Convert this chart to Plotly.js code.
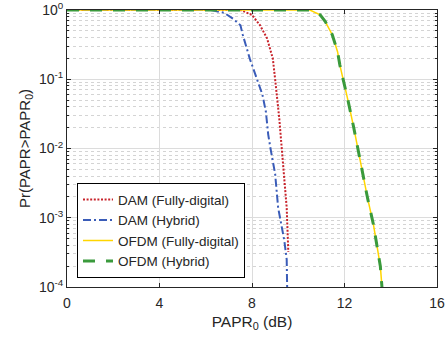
<!DOCTYPE html>
<html>
<head>
<meta charset="utf-8">
<script src="https://cdn.plot.ly/plotly-3.0.1.min.js"></script>
<style>html,body{margin:0;padding:0;background:#fff;}#chart{width:447px;height:341px;}</style>
</head>
<body>
<div id="chart"></div>
<script>
// Series names
const seriesNames = ["DAM (Fully-digital)", "DAM (Hybrid)", "OFDM (Fully-digital)", "OFDM (Hybrid)"];

// DAM (Fully-digital)
const damFdX = [0, 7.5, 8.0, 8.35, 8.65, 8.9, 9.0, 9.1, 9.18, 9.25, 9.33, 9.42, 9.5, 9.57];
const damFdY = [1, 1, 0.85, 0.6, 0.39, 0.2, 0.1, 0.052, 0.027, 0.014, 0.0063, 0.0028, 0.0014, 0.00032];

// DAM (Hybrid)
const damHyX = [0, 6.2, 6.8, 7.2, 7.5, 7.6, 7.9, 8.2, 8.45, 8.6, 8.7, 8.8, 9.0, 9.13, 9.2, 9.3, 9.4, 9.5, 9.52];
const damHyY = [1, 1, 0.91, 0.74, 0.6, 0.44, 0.2, 0.1, 0.06, 0.034, 0.016, 0.01, 0.0043, 0.0014, 0.001, 0.0007, 0.00046, 0.00025, 0.0001];

// OFDM (both curves coincide)
const ofdmX = [0, 10.5, 10.95, 11.17, 11.47, 11.7, 11.8, 11.95, 12.16, 12.4, 12.55, 12.8, 13.0, 13.25, 13.4, 13.55, 13.62];
const ofdmFdY = [1, 1, 0.85, 0.68, 0.44, 0.25, 0.16, 0.1, 0.048, 0.02, 0.011, 0.0043, 0.0019, 0.0008, 0.00042, 0.0002, 0.0001];
const ofdmHyY = [1, 1, 0.85, 0.68, 0.44, 0.25, 0.16, 0.1, 0.048, 0.02, 0.011, 0.0043, 0.0019, 0.0008, 0.00042, 0.0002, 0.0001];

// Tick labels
const xTickVals = [0, 4, 8, 12, 16];
const xTickText = ["0", "4", "8", "12", "16"];
const yTickVals = [1e-4, 1e-3, 1e-2, 1e-1, 1];
const yTickText = ["10<sup>-4</sup>", "10<sup>-3</sup>", "10<sup>-2</sup>", "10<sup>-1</sup>", "10<sup>0</sup>"];
const minorMult = [2, 3, 4, 5, 6, 7, 8, 9];
const decades = [1e-4, 1e-3, 1e-2, 1e-1];

const yMinor = [];
decades.forEach(d => minorMult.forEach(m => yMinor.push(d * m)));

const traces = [
  {x: damFdX, y: damFdY, name: seriesNames[0], mode: "lines",
   line: {color: "#c8232b", width: 2, dash: "2px,1.6px"}},
  {x: damHyX, y: damHyY, name: seriesNames[1], mode: "lines",
   line: {color: "#3a5cb8", width: 2, dash: "8px,3px,2px,3px"}},
  {x: ofdmX, y: ofdmFdY, name: seriesNames[2], mode: "lines",
   line: {color: "#ffd500", width: 1.5}},
  {x: ofdmX, y: ofdmHyY, name: seriesNames[3], mode: "lines",
   line: {color: "#3a9a3c", width: 3, dash: "12px,11px"}}
];

const font = {family: "Liberation Sans, Arial, sans-serif", color: "#262626"};

const layout = {
  width: 447, height: 341,
  margin: {l: 67, r: 10, t: 10, b: 54},
  paper_bgcolor: "#fff", plot_bgcolor: "#fff",
  font: Object.assign({size: 13}, font),
  showlegend: true,
  legend: {
    x: 0.027, y: 0.032, xanchor: "left", yanchor: "bottom",
    bgcolor: "#fff", bordercolor: "#000", borderwidth: 1,
    font: Object.assign({size: 13.5}, font),
    tracegroupgap: 0
  },
  xaxis: {
    range: [0, 16], tickmode: "array", tickvals: xTickVals, ticktext: xTickText,
    showline: true, mirror: "ticks", linecolor: "#262626", linewidth: 1,
    ticks: "inside", ticklen: 4, tickcolor: "#262626",
    showgrid: true, gridcolor: "#dcdcdc", gridwidth: 1, zeroline: false,
    tickfont: Object.assign({size: 14}, font), ticklabelstandoff: 3,
    title: {text: "PAPR<sub>0</sub> (dB)", font: Object.assign({size: 15.5}, font), standoff: 6}
  },
  yaxis: {
    type: "log", range: [-4, 0], tickmode: "array", tickvals: yTickVals, ticktext: yTickText,
    showline: true, mirror: "ticks", linecolor: "#262626", linewidth: 1,
    ticks: "inside", ticklen: 4, tickcolor: "#262626",
    showgrid: true, gridcolor: "#dcdcdc", gridwidth: 1, zeroline: false,
    tickfont: Object.assign({size: 14}, font), ticklabeloverflow: "allow",
    minor: {tickmode: "array", tickvals: yMinor, ticks: "inside", ticklen: 2,
            tickcolor: "#262626", showgrid: true, gridcolor: "#d4d4d4", griddash: "dot", gridwidth: 1},
    title: {text: "Pr(PAPR&gt;PAPR<sub>0</sub>)", font: Object.assign({size: 15}, font), standoff: 4}
  }
};

Plotly.newPlot("chart", traces, layout, {displayModeBar: false, staticPlot: true});
</script>
</body>
</html>
